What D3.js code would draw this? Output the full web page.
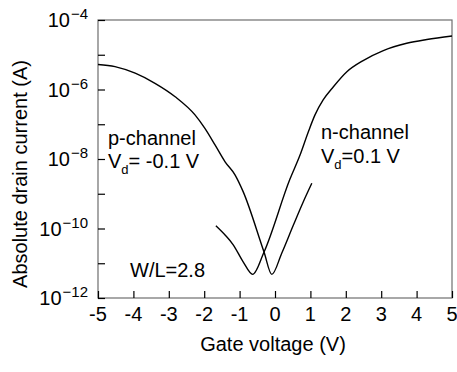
<!DOCTYPE html>
<html>
<head>
<meta charset="utf-8">
<script src="https://cdn.jsdelivr.net/npm/d3@7"></script>
<style>
  html, body { margin: 0; padding: 0; background: #fff; }
  text { font-family: "Liberation Sans", Arial, sans-serif; fill: #000; }
</style>
</head>
<body>
<svg id="chart" width="457" height="372"></svg>
<script>
// ---- data ----
const xTicks = [-5, -4, -3, -2, -1, 0, 1, 2, 3, 4, 5];
const yTickExponents = [-4, -5, -6, -7, -8, -9, -10, -11, -12];
const yLabelExponents = [-4, -6, -8, -10, -12];

const pChannelV = [-5, -4.52, -3.95, -3.39, -2.82, -2.26, -1.98, -1.69, -1.41, -1.13, -0.90, -0.31, -0.09, 0.19, 0.52, 0.80, 1.04];
const pChannelI = [5.25e-6, 4.57e-6, 2.95e-6, 1.51e-6, 6.2e-7, 1.86e-7, 7.6e-8, 2.5e-8, 8.3e-9, 3.5e-9, 1.15e-9, 2.1e-11, 4.8e-12, 1.95e-11, 1.26e-10, 5.9e-10, 2.0e-9];

const nChannelV = [5, 4.29, 3.72, 3.06, 2.49, 2.03, 1.65, 1.36, 1.13, 0.94, 0.71, 0.42, -0.31, -0.63, -0.90, -1.18, -1.41, -1.67];
const nChannelI = [3.47e-5, 2.75e-5, 2.14e-5, 1.32e-5, 6.8e-6, 3.24e-6, 1.2e-6, 5.0e-7, 1.86e-7, 6.0e-8, 1.32e-8, 2.6e-9, 2.1e-11, 4.8e-12, 1.1e-11, 3.4e-11, 6.5e-11, 1.2e-10];

(function () {
// ---- layout ----
const pL = 98, pR = 452, pT = 20, pB = 298;
const svg = d3.select("#chart");

const x = d3.scaleLinear().domain([-5, 5]).range([pL, pR]);
const y = d3.scaleLog().domain([1e-12, 1e-4]).range([pB, pT]);

// frame
svg.append("rect")
  .attr("x", pL).attr("y", pT)
  .attr("width", pR - pL).attr("height", pB - pT)
  .attr("fill", "none").attr("stroke", "#6e6e6e").attr("stroke-width", 1.2);

// x axis ticks (inward)
const xAxis = d3.axisBottom(x).tickValues(xTicks).tickSizeInner(-7).tickSizeOuter(0).tickFormat("");
const gx = svg.append("g").attr("transform", `translate(0,${pB})`).call(xAxis);
gx.select(".domain").remove();
gx.selectAll("line").attr("stroke", "#000").attr("stroke-width", 1.2);

svg.append("g").selectAll("text").data(xTicks).join("text")
  .attr("x", d => x(d)).attr("y", 321)
  .attr("text-anchor", "middle")
  .attr("font-size", 20)
  .text(d => d);

// y axis ticks (inward)
const yAxis = d3.axisLeft(y).tickValues(yTickExponents.map(e => Math.pow(10, e)))
  .tickSizeInner(-7).tickSizeOuter(0).tickFormat("");
const gy = svg.append("g").attr("transform", `translate(${pL},0)`).call(yAxis);
gy.select(".domain").remove();
gy.selectAll("line").attr("stroke", "#000").attr("stroke-width", 1.2);

const yl = svg.append("g").selectAll("text").data(yLabelExponents).join("text")
  .attr("x", 88).attr("y", d => y(Math.pow(10, d)) + 7)
  .attr("text-anchor", "end")
  .attr("font-size", 20);
yl.append("tspan").text("10");
yl.append("tspan").attr("font-size", 15).attr("dx", 1).attr("dy", -8)
  .text(d => "\u2212" + String(Math.abs(d)));

// curves
const line = d3.line().x(d => x(d[0])).y(d => y(d[1])).curve(d3.curveMonotoneX);
const pData = pChannelV.map((v, i) => [v, pChannelI[i]]).sort((a, b) => a[0] - b[0]);
const nData = nChannelV.map((v, i) => [v, nChannelI[i]]).sort((a, b) => a[0] - b[0]);

svg.append("path").datum(pData).attr("d", line)
  .attr("fill", "none").attr("stroke", "#000").attr("stroke-width", 1.4);
svg.append("path").datum(nData).attr("d", line)
  .attr("fill", "none").attr("stroke", "#000").attr("stroke-width", 1.4);

// annotations
function vdLabel(xp, yp, rest) {
  const t = svg.append("text").attr("x", xp).attr("y", yp).attr("font-size", 20);
  t.append("tspan").text("V");
  t.append("tspan").attr("font-size", 13).attr("dy", 6).text("d");
  t.append("tspan").attr("dy", -6).text(rest);
}
svg.append("text").attr("x", 108).attr("y", 145).attr("font-size", 20).text("p-channel");
vdLabel(108, 168, "= -0.1 V");
svg.append("text").attr("x", 321).attr("y", 139).attr("font-size", 20).text("n-channel");
vdLabel(321, 163, "=0.1 V");
svg.append("text").attr("x", 130).attr("y", 277).attr("font-size", 20).text("W/L=2.8");

// axis titles
svg.append("text").attr("x", 273).attr("y", 351).attr("text-anchor", "middle")
  .attr("font-size", 20).text("Gate voltage (V)");
svg.append("text").attr("transform", "translate(27,174) rotate(-90)")
  .attr("text-anchor", "middle").attr("font-size", 20).text("Absolute drain current (A)");
})();
</script>
</body>
</html>
